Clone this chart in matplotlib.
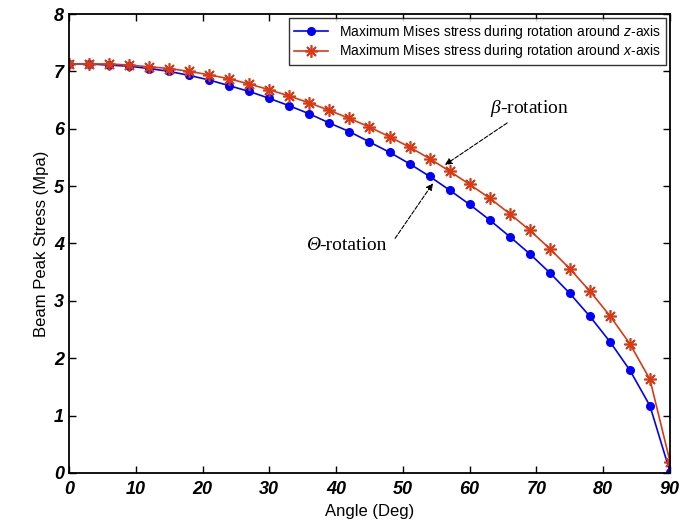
import numpy as np
import matplotlib.pyplot as plt

plt.rcParams['mathtext.fontset'] = 'custom'
plt.rcParams['mathtext.it'] = 'Liberation Serif:italic'
plt.rcParams['mathtext.rm'] = 'Liberation Serif'
plt.rcParams['mathtext.sf'] = 'Liberation Sans:italic'

# angle in degrees
angle = list(range(0, 91, 3))

# max Mises stress, rotation around z-axis (Theta)
stress_z = [7.13, 7.13, 7.11, 7.09, 7.05, 7.00, 6.93, 6.85, 6.75, 6.65, 6.53,
            6.40, 6.26, 6.10, 5.95, 5.77, 5.59, 5.39, 5.17, 4.93, 4.68,
            4.41, 4.12, 3.82, 3.49, 3.13, 2.73, 2.29, 1.79, 1.17, 0.02]

# max Mises stress, rotation around x-axis (beta)
stress_x = [7.13, 7.13, 7.13, 7.11, 7.08, 7.05, 7.00, 6.94, 6.87, 6.78, 6.68,
            6.57, 6.45, 6.32, 6.18, 6.03, 5.86, 5.68, 5.48, 5.26, 5.03,
            4.79, 4.52, 4.23, 3.91, 3.56, 3.17, 2.74, 2.25, 1.63, 0.20]

xticks = list(range(0, 91, 10))
yticks = list(range(0, 9))

fig = plt.figure(figsize=(6.94, 5.29), dpi=100)
ax = fig.add_axes([0.0994, 0.1059, 0.866, 0.8676])

ax.plot(angle, stress_z, color='#0000ff', marker='o', markersize=5.5, lw=1.2,
        label='Maximum Mises stress during rotation around $\\mathsf{z}$-axis')
ax.plot(angle, stress_x, color='#d93a14', marker=(8, 2, 0), markersize=9,
        markeredgewidth=1.2, lw=1.2,
        label='Maximum Mises stress during rotation around $\\mathsf{x}$-axis')

ax.set_xlim(0, 90)
ax.set_ylim(0, 8)
ax.set_xticks(xticks)
ax.set_yticks(yticks)
ax.tick_params(direction='in', top=True, right=True, length=5, width=1)
for lbl in ax.get_xticklabels() + ax.get_yticklabels():
    lbl.set_fontweight('bold')
    lbl.set_fontstyle('italic')
    lbl.set_fontsize(13)
    lbl.set_family('Liberation Sans')
ax.tick_params(axis='x', pad=6)
for s in ax.spines.values():
    s.set_linewidth(1.3)

ax.set_xlabel('Angle (Deg)', fontsize=12, family='Liberation Sans')
ax.set_ylabel('Beam Peak Stress (Mpa)', fontsize=12, family='Liberation Sans')

leg = ax.legend(loc='upper right', frameon=True, fancybox=False,
                prop={'family': 'Liberation Sans', 'size': 10},
                borderaxespad=0.3, handlelength=2.4, labelspacing=0.1,
                borderpad=0.35, handletextpad=0.8)
leg.get_frame().set_edgecolor('black')
leg.get_frame().set_linewidth(1.0)

arrow = dict(arrowstyle='-|>', linestyle='--', color='black', lw=0.8,
             mutation_scale=10, shrinkA=2, shrinkB=0)
ax.annotate('$\\beta$-rotation', xy=(56.3, 5.37), xytext=(63.0, 6.36),
            fontsize=14, family='Liberation Serif',
            va='center', ha='left', arrowprops=arrow)
ax.annotate('', xy=(54.5, 5.05), xytext=(48.6, 4.05), arrowprops=arrow)
rot = ax.text(47.6, 3.97, '-rotation', fontsize=14, family='Liberation Serif',
              va='center', ha='right')
ax.annotate('Θ', xy=(0, 0.5), xycoords=rot, xytext=(0.5, 0),
            textcoords='offset points', fontsize=14, family='Liberation Serif',
            fontstyle='italic', va='center', ha='right')

fig.savefig('out.png', dpi=100)
